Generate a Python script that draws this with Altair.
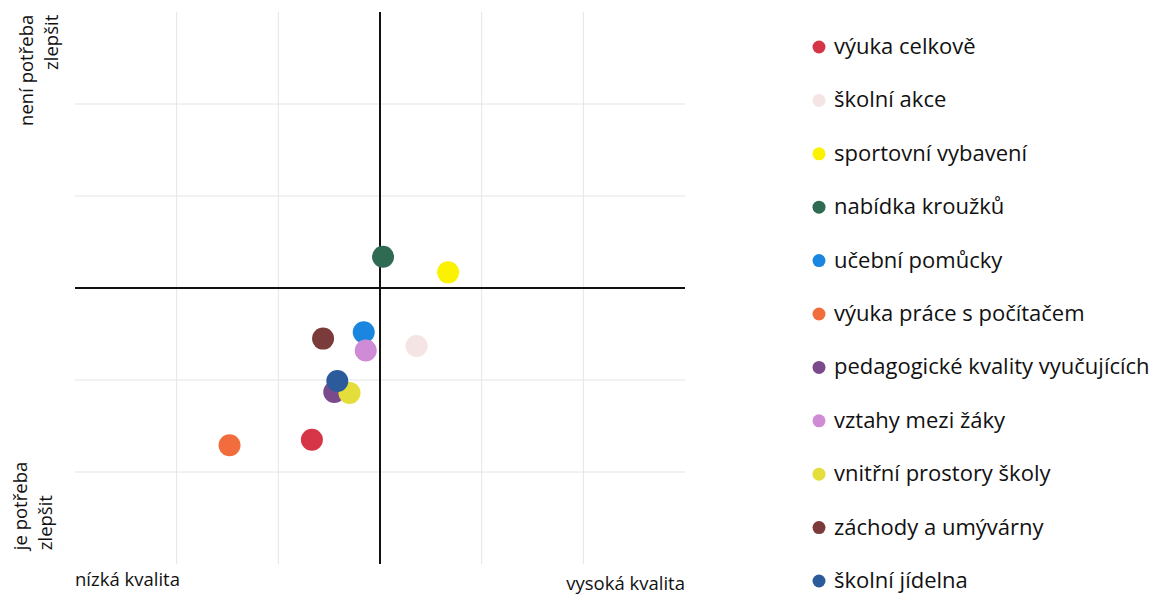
import altair as alt
import pandas as pd

# ---- data ----
categories = [
    "výuka celkově",
    "školní akce",
    "sportovní vybavení",
    "nabídka kroužků",
    "učební pomůcky",
    "výuka práce s počítačem",
    "pedagogické kvality vyučujících",
    "vztahy mezi žáky",
    "vnitřní prostory školy",
    "záchody a umývárny",
    "školní jídelna",
]
quality = [-0.67, 0.36, 0.67, 0.03, -0.16, -1.48, -0.45, -0.14, -0.30, -0.56, -0.42]
need = [-1.65, -0.63, 0.17, 0.34, -0.48, -1.71, -1.13, -0.68, -1.14, -0.55, -1.01]
colors = [
    "#d63447", "#f5e4e4", "#fbf200", "#2f6b52", "#1a86e0", "#f26d3d",
    "#7b4a8c", "#d08bd6", "#e3de3a", "#7c3b3b", "#2c5b9c",
]
grid_values = [-2, -1, 1, 2]
center_values = [0]

FONT = "Open Sans"

df = pd.DataFrame({
    "item": categories,
    "kvalita": quality,
    "potreba": need,
    "poradi": list(range(len(categories))),
})
grid_df = pd.DataFrame({"v": grid_values})
center_df = pd.DataFrame({"v": center_values})

xs = alt.Scale(domain=[-3, 3], nice=False, zero=False)
ys = alt.Scale(domain=[-3, 3], nice=False, zero=False)

vgrid = alt.Chart(grid_df).mark_rule(color="#e4e4ea", strokeWidth=1).encode(
    x=alt.X("v:Q", scale=xs, axis=None)
)
hgrid = alt.Chart(grid_df).mark_rule(color="#e4e4ea", strokeWidth=1).encode(
    y=alt.Y("v:Q", scale=ys, axis=None)
)
vaxis = alt.Chart(center_df).mark_rule(color="#111111", strokeWidth=2).encode(
    x=alt.X("v:Q", scale=xs, axis=None)
)
haxis = alt.Chart(center_df).mark_rule(color="#111111", strokeWidth=2).encode(
    y=alt.Y("v:Q", scale=ys, axis=None)
)

points = alt.Chart(df).mark_circle(size=484, opacity=1).encode(
    x=alt.X("kvalita:Q", scale=xs, axis=None),
    y=alt.Y("potreba:Q", scale=ys, axis=None),
    color=alt.Color(
        "item:N",
        scale=alt.Scale(domain=categories, range=colors),
        sort=categories,
        legend=alt.Legend(
            orient="none", legendX=733, legendY=24, title=None,
            symbolType="circle", symbolSize=169, symbolStrokeWidth=0,
            symbolOpacity=1,
            labelFont=FONT, labelFontSize=22, labelColor="#111111",
            labelLimit=500, labelOffset=4, rowPadding=31.4, padding=0,
        ),
    ),
    order=alt.Order("poradi:Q"),
)

# ---- axis-end annotations (positions in data units) ----
ann_top = pd.DataFrame({"t": ["není potřeba\nzlepšit"], "x": [-3.56], "y": [2.97]})
ann_bottom = pd.DataFrame({"t": ["je potřeba\nzlepšit"], "x": [-3.62], "y": [-2.85]})
ann_left = pd.DataFrame({"t": ["nízká kvalita"], "x": [-3.0], "y": [-3.17]})
ann_right = pd.DataFrame({"t": ["vysoká kvalita"], "x": [3.0], "y": [-3.22]})

def txt(d, **kw):
    return alt.Chart(d).mark_text(font=FONT, fontSize=18.5, color="#111111",
                                  lineBreak="\n", lineHeight=25, **kw).encode(
        x=alt.X("x:Q", scale=xs, axis=None),
        y=alt.Y("y:Q", scale=ys, axis=None),
        text="t:N",
    )

t1 = txt(ann_top, angle=270, align="right", baseline="top")
t2 = txt(ann_bottom, angle=270, align="left", baseline="top")
t3 = txt(ann_left, align="left", baseline="middle")
t4 = txt(ann_right, align="right", baseline="middle")

chart = alt.layer(vgrid, hgrid, vaxis, haxis, points, t1, t2, t3, t4).properties(
    width=610, height=552,
    autosize=alt.AutoSizeParams(type="none"),
    padding={"left": 67, "top": 4, "right": 476, "bottom": 34},
    background="white",
).configure_view(stroke=None)

chart.save("out.html", embed_options={"renderer": "svg", "actions": False})
